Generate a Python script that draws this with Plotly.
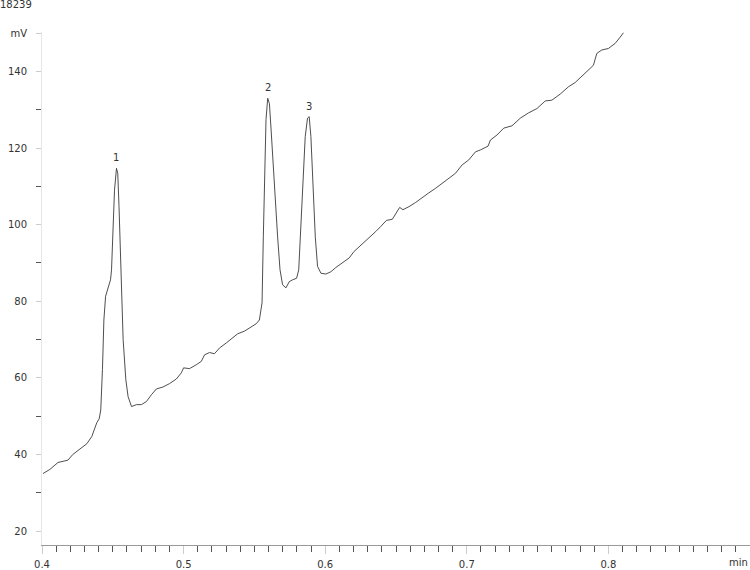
import plotly.graph_objects as go

# chromatogram 18239
time_min = [
    0.4007, 0.4056, 0.4113, 0.4183, 0.4218, 0.4268, 0.4317, 0.4352, 0.4387, 0.4404,
    0.4415, 0.4427, 0.4437, 0.4449, 0.4458, 0.4469, 0.4484, 0.4491, 0.4498, 0.4512,
    0.4526, 0.4535, 0.4544, 0.4556, 0.4573, 0.4592, 0.4608, 0.4632, 0.4667, 0.4702,
    0.4737, 0.4773, 0.4808, 0.4854, 0.4901, 0.4949, 0.4984, 0.5000, 0.5042, 0.5089,
    0.5125, 0.5148, 0.5183, 0.5218, 0.5254, 0.5301, 0.5347, 0.5382, 0.5430, 0.5465,
    0.5512, 0.5535, 0.5554, 0.5563, 0.5573, 0.5582, 0.5594, 0.5606, 0.5618, 0.5641,
    0.5664, 0.5681, 0.5699, 0.5723, 0.5746, 0.5770, 0.5798, 0.5813, 0.5824, 0.5840,
    0.5859, 0.5875, 0.5887, 0.5899, 0.5915, 0.5930, 0.5946, 0.5970, 0.6005, 0.6040,
    0.6075, 0.6122, 0.6169, 0.6204, 0.6239, 0.6287, 0.6322, 0.6357, 0.6392, 0.6432,
    0.6474, 0.6502, 0.6526, 0.6549, 0.6592, 0.6639, 0.6685, 0.6732, 0.6780, 0.6826,
    0.6873, 0.6920, 0.6967, 0.7014, 0.7061, 0.7096, 0.7150, 0.7167, 0.7213, 0.7261,
    0.7319, 0.7378, 0.7437, 0.7495, 0.7554, 0.7601, 0.7660, 0.7718, 0.7765, 0.7824,
    0.7859, 0.7894, 0.7918, 0.7953, 0.8000, 0.8047, 0.8082, 0.8106,
]
signal_mv = [
    35.0, 36.1, 37.9, 38.5, 40.0, 41.5, 42.8, 44.7, 48.3, 49.3,
    51.6, 62.2, 75.1, 81.3, 82.6, 83.9, 85.6, 88.2, 96.0, 109.0,
    114.7, 113.4, 104.7, 87.3, 70.0, 59.5, 55.1, 52.5, 53.0, 53.0,
    53.8, 55.6, 57.1, 57.6, 58.5, 59.7, 61.3, 62.6, 62.4, 63.4,
    64.3, 66.0, 66.6, 66.3, 67.8, 69.1, 70.4, 71.5, 72.2, 73.0,
    74.1, 75.1, 79.6, 96.8, 114.3, 127.4, 133.0, 131.6, 124.7, 109.9,
    96.8, 88.2, 84.3, 83.5, 85.1, 85.6, 86.0, 88.2, 96.8, 109.9,
    123.0, 127.8, 128.2, 123.0, 109.9, 96.8, 89.1, 87.3, 87.1, 87.7,
    88.8, 90.1, 91.3, 93.0, 94.2, 95.6, 96.8, 98.2, 99.5, 101.1,
    101.4, 103.0, 104.5, 103.9, 104.7, 105.8, 107.1, 108.3, 109.5, 110.8,
    112.1, 113.4, 115.6, 116.9, 119.0, 119.5, 120.5, 122.1, 123.4, 125.2,
    125.8, 127.8, 129.2, 130.3, 132.3, 132.5, 134.1, 136.0, 137.1, 139.1,
    140.3, 141.6, 144.7, 145.6, 146.0, 147.3, 148.9, 150.1,
]

peak_names = ["1", "2", "3"]
peak_index = [20, 56, 72]

y_ticks = [20, 40, 60, 80, 100, 120, 140, 150]
y_tick_text = ["20", "40", "60", "80", "100", "120", "140", "mV"]
x_ticks = [0.4, 0.5, 0.6, 0.7, 0.8]
x_tick_text = ["0.4", "0.5", "0.6", "0.7", "0.8"]

font = dict(family="DejaVu Sans", size=10, color="#333333")

fig = go.Figure()
fig.add_scatter(
    x=time_min, y=signal_mv, mode="lines",
    line=dict(color="#3a3a3a", width=0.9), showlegend=False,
)

for name, i in zip(peak_names, peak_index):
    fig.add_annotation(
        x=time_min[i], y=signal_mv[i], text=name, showarrow=False,
        yanchor="bottom", yshift=3, font=font,
    )

fig.add_annotation(
    xref="paper", yref="paper", x=1, y=0, text="min", showarrow=False,
    xanchor="right", yanchor="top", yshift=-10, font=font,
)

fig.update_layout(
    width=750, height=570,
    margin=dict(l=42, r=0, t=32, b=25, autoexpand=False),
    paper_bgcolor="white", plot_bgcolor="white",
    font=font,
    title=dict(text="18239", x=0, xref="container", xanchor="left",
               y=0.998, yref="container", yanchor="top", font=font),
)
fig.update_xaxes(
    range=[0.4, 0.9], tickvals=x_ticks, ticktext=x_tick_text, automargin=False,
    showgrid=False, zeroline=False, showline=True, linecolor="#999999",
    ticks="outside", ticklen=8, tickcolor="#cccccc", ticklabelstandoff=2,
    minor=dict(dtick=0.01, ticks="outside", ticklen=6, tickcolor="#555555"),
)
fig.update_yaxes(
    range=[16.35, 150.3], tickvals=y_ticks, ticktext=y_tick_text, automargin=False,
    showgrid=False, zeroline=False, showline=True, linecolor="#e6e6e6",
    ticks="outside", ticklen=5, tickcolor="#cccccc", ticklabelstandoff=7,
    minor=dict(tickvals=[30, 50, 70, 90, 110, 130], ticks="outside",
               ticklen=5, tickcolor="#555555"),
)

# page body has a default 8px margin; drop it so the figure sits at 0,0
fig.write_html("out.html", config={"displayModeBar": False},
               post_script="document.body.style.margin='0';")
